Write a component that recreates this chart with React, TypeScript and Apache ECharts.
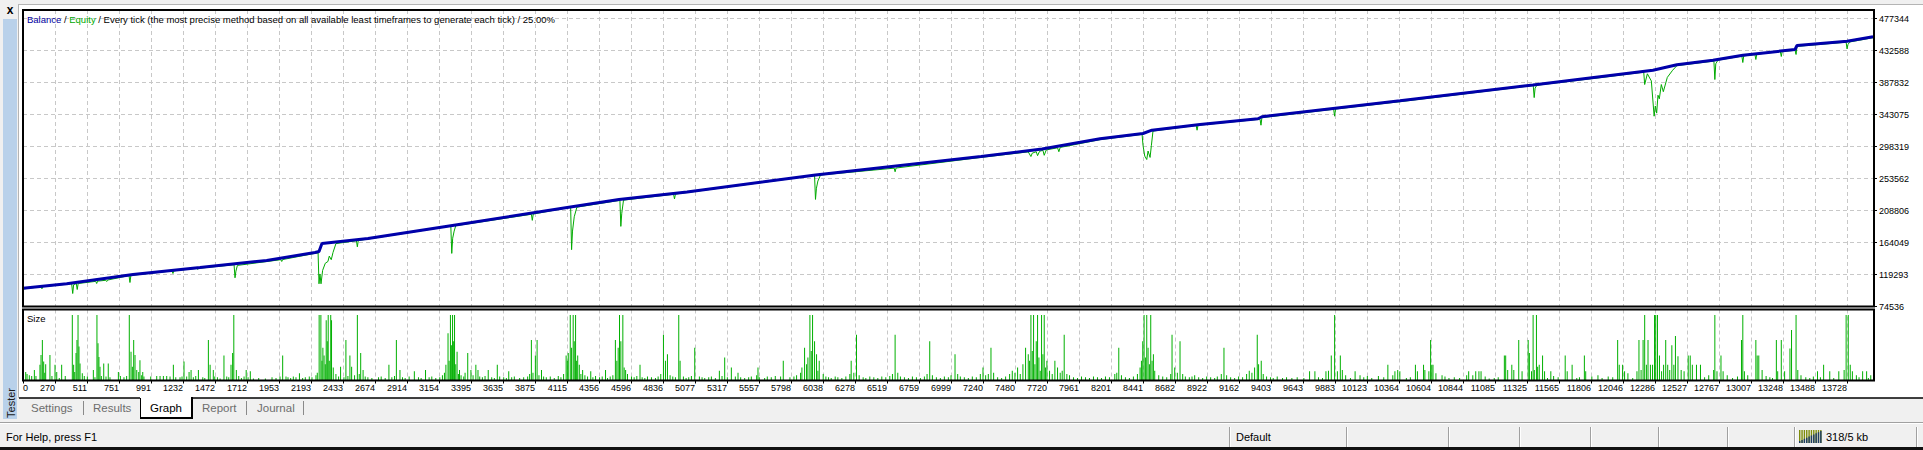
import React, { useEffect, useRef } from "react";
import * as echarts from "echarts";

const xTickLabels = ["0","270","511","751","991","1232","1472","1712","1953","2193","2433","2674","2914","3154","3395","3635","3875","4115","4356","4596","4836","5077","5317","5557","5798","6038","6278","6519","6759","6999","7240","7480","7720","7961","8201","8441","8682","8922","9162","9403","9643","9883","10123","10364","10604","10844","11085","11325","11565","11806","12046","12286","12527","12767","13007","13248","13488","13728"];
const yTickLabels = ["74536","119293","164049","208806","253562","298319","343075","387832","432588","477344"];

// [trade #, balance]
const balance: [number, number][] = [
  [30,100000],[358,106300],[856,119300],[1359,129100],[1860,138900],[2223,150100],[2253,151500],[2275,162600],
  [2621,169600],[3267,188200],[4093,212300],[4506,224200],[5017,234700],[5982,258600],[7225,284300],[7684,294700],
  [8119,309100],[8442,316500],[8509,321100],[8870,329100],[9305,337100],[9335,339900],[9869,351500],[10372,362200],
  [11371,384300],[11874,395800],[12272,405000],[12452,412600],[12723,419000],[12948,426000],[13339,434000],
  [13354,439600],[13730,445600],[13925,451700]
];

// [trade #, equity]
const equity: [number, number][] = [
  [30,99000],[165,102300],[172,99300],[180,102400],[395,106400],[403,92700],[410,105000],[430,106600],[437,98300],
  [444,106700],[576,109700],[583,106700],[590,110000],[651,111200],[658,109500],[665,111500],[826,117800],[833,108100],
  [840,118000],[1149,124300],[1156,120700],[1163,124500],[1335,127800],[1342,126300],[1349,128000],[1615,132900],
  [1622,114700],[1629,124000],[1640,132000],[1966,140000],[1973,137500],[1980,140200],[2223,148900],[2246,149500],
  [2253,106300],[2260,120000],[2268,106300],[2280,125000],[2300,135000],[2320,137500],[2330,145000],[2345,140000],
  [2358,150000],[2380,162500],[2534,166500],[2541,158000],[2548,166800],[3243,187000],[3250,148800],[3257,170000],
  [3268,180000],[3280,187500],[3848,203500],[3855,195000],[3862,203800],[4143,213500],[4150,154000],[4157,180000],
  [4170,200000],[4190,213500],[4513,223000],[4520,186600],[4527,205000],[4540,223300],[4916,231500],[4923,225000],
  [4930,231800],[5975,257800],[5982,224300],[5989,240000],[6000,250000],[6020,258500],[6573,268000],[6580,263000],
  [6587,268200],[7225,283100],[7580,290800],[7600,284300],[7610,289000],[7640,291000],[7650,285500],[7665,291600],
  [7690,293000],[7700,286000],[7715,293500],[7800,296500],[7810,291000],[7820,297000],[8119,307900],[8435,315300],
  [8442,300000],[8455,285000],[8470,280100],[8480,292000],[8495,283000],[8505,300000],[8517,319900],[8841,327800],
  [8848,321100],[8855,328000],[9321,336500],[9328,328100],[9335,338700],[9874,350400],[9881,340700],[9888,350800],
  [10372,361000],[11373,383600],[11380,366700],[11387,380000],[11400,384000],[11874,394600],[12203,402300],
  [12210,385000],[12230,400000],[12260,390000],[12281,340700],[12290,355000],[12300,345000],[12310,370000],
  [12320,365000],[12335,385000],[12350,375000],[12380,395000],[12420,405000],[12452,411400],[12730,417800],
  [12737,392000],[12744,414000],[12760,419000],[12940,424800],[12947,415800],[12954,425000],[13038,427000],
  [13045,420000],[13052,427500],[13229,431000],[13236,424200],[13243,431300],[13340,432800],[13347,427000],
  [13354,438400],[13723,444200],[13730,434900],[13737,441000],[13750,444500],[13925,450500]
];

// [trade #, position size]
const lotSizes: [number, number][] = [
  [50,0.13],[60,0.10],[77,0.08],[95,0.07],[115,0.16],[127,0.07],[157,0.24],[165,0.39],[175,0.62],[185,0.29],
  [193,0.12],[200,0.25],[232,0.39],[247,0.07],[270,0.24],[283,0.13],[302,0.04],[320,0.24],[347,0.07],
  [400,1.0],[410,0.24],[418,0.13],[428,0.42],[435,0.62],[443,1.0],[450,0.52],[458,0.26],[475,0.11],[490,0.07],
  [513,0.06],[558,0.16],[570,0.05],[585,1.0],[593,0.57],[600,0.36],[608,0.21],[618,0.07],[636,0.26],[653,0.06],
  [670,0.26],[683,0.05],[746,0.13],[761,0.07],[788,0.05],[808,0.07],[828,1.0],[841,0.44],[851,0.21],[861,0.62],
  [871,0.39],[884,0.16],[899,0.13],[908,0.31],[921,0.08],[929,0.13],[938,0.06],[989,0.06],[1034,0.07],
  [1059,0.07],[1084,0.07],[1109,0.07],[1134,0.06],[1159,0.24],[1177,0.05],[1209,0.05],[1224,0.06],[1239,0.29],
  [1259,0.06],[1277,0.13],[1292,0.16],[1309,0.05],[1327,0.07],[1347,0.16],
  [1380,0.05],[1395,0.04],[1422,0.62],[1435,0.24],[1459,0.16],[1470,0.06],[1490,0.05],[1510,0.03],[1539,0.38],
  [1560,0.06],[1575,0.05],[1592,0.24],[1604,0.42],[1613,1.0],[1632,0.16],[1650,0.07],[1670,0.04],[1690,0.06],
  [1706,0.16],[1720,0.05],[1737,0.14],[1760,0.03],[1800,0.04],[1850,0.03],[1900,0.05],[1930,0.04],[1960,0.06],
  [1980,0.38],[2005,0.06],[2020,0.05],[2040,0.04],[2060,0.06],[2080,0.05],[2106,0.11],[2130,0.04],[2150,0.05],
  [2180,0.06],[2200,0.05],[2230,0.08],[2240,0.12],[2254,1.0],[2267,1.0],[2275,0.3],[2282,0.5],[2291,0.38],
  [2300,0.25],[2307,0.92],[2315,0.6],[2322,1.0],[2330,0.3],[2341,1.0],[2347,0.92],[2360,0.2],[2380,0.1],
  [2400,0.06],[2415,0.21],[2440,0.05],[2455,0.62],[2470,0.07],[2485,0.38],[2498,0.21],[2520,0.08],[2541,1.0],
  [2555,0.1],[2566,0.42],[2584,0.16],[2600,0.06],[2620,0.05],[2650,0.04],[2700,0.05],[2720,0.06],[2750,0.04],
  [2778,0.24],[2800,0.05],[2820,0.07],[2834,0.62],[2861,0.16],[2880,0.05],[2900,0.04],[2930,0.06],[2969,0.14],
  [3000,0.05],[3020,0.04],[3053,0.16],[3080,0.05],[3100,0.06],[3130,0.04],[3160,0.05],[3180,0.08],[3195,0.12],
  [3206,0.24],[3222,0.72],[3230,0.3],[3240,1.0],[3247,0.54],[3256,1.0],[3262,0.6],[3271,1.0],[3280,0.25],
  [3290,0.44],[3300,0.1],[3308,0.16],[3320,0.08],[3340,0.06],[3350,0.12],[3370,0.42],[3394,0.16],[3410,0.08],
  [3431,0.24],[3447,0.16],[3460,0.06],[3480,0.05],[3500,0.07],[3524,0.16],[3550,0.05],[3570,0.04],[3592,0.24],
  [3610,0.06],[3640,0.05],[3660,0.04],[3678,0.14],[3700,0.05],[3720,0.06],[3760,0.04],[3790,0.05],[3820,0.06],
  [3835,0.1],[3848,0.62],[3860,0.12],[3878,0.38],[3891,0.62],[3905,0.08],[3924,0.16],[3940,0.06],[3960,0.05],
  [3990,0.06],[4020,0.04],[4050,0.07],[4070,0.05],[4090,0.1],[4109,0.38],[4118,0.3],[4125,0.42],[4140,1.0],
  [4150,0.5],[4162,1.0],[4170,0.6],[4180,1.0],[4188,0.3],[4196,0.38],[4208,0.24],[4220,0.1],[4233,0.16],
  [4250,0.08],[4270,0.06],[4294,0.14],[4310,0.05],[4330,0.07],[4360,0.05],[4380,0.06],[4405,0.16],[4420,0.04],
  [4440,0.06],[4460,0.08],[4479,0.62],[4490,0.3],[4500,0.5],[4510,1.0],[4520,0.6],[4535,1.0],[4545,0.2],
  [4556,0.16],[4570,0.1],[4600,0.06],[4620,0.05],[4640,0.07],[4664,0.24],
  [4680,0.05],[4700,0.04],[4720,0.06],[4750,0.05],[4780,0.04],[4800,0.06],[4820,0.1],[4840,0.7],[4855,0.3],
  [4870,0.4],[4890,0.08],[4910,0.06],[4930,0.05],[4955,1.0],[4965,0.3],[4990,0.06],[5010,0.04],[5030,0.05],
  [5050,0.07],[5075,0.5],[5110,0.06],[5130,0.05],[5150,0.04],[5180,0.05],[5200,0.06],[5230,0.04],[5260,0.15],
  [5280,0.07],[5300,0.35],[5320,0.05],[5350,0.2],[5380,0.06],[5400,0.12],[5420,0.05],[5450,0.04],[5480,0.05],
  [5500,0.06],[5540,0.08],[5550,0.2],[5560,0.05],[5600,0.04],[5620,0.06],[5650,0.05],[5680,0.07],[5720,0.06],
  [5740,0.3],[5790,0.05],[5820,0.06],[5840,0.08],[5870,0.12],[5880,0.2],[5900,0.5],[5915,0.25],[5925,0.35],
  [5940,1.0],[5950,0.45],[5960,1.0],[5975,0.6],[5990,0.4],[6000,0.15],[6010,0.3],[6040,0.1],[6060,0.06],
  [6080,0.05],[6100,0.04],[6130,0.06],[6150,0.05],[6180,0.04],[6210,0.06],[6240,0.1],[6250,0.3],[6270,0.12],
  [6290,0.7],[6310,0.08],[6340,0.05],[6360,0.04],[6390,0.06],[6420,0.05],[6450,0.04],[6480,0.06],[6510,0.05],
  [6540,0.07],[6560,0.1],[6580,0.7],[6600,0.12],[6620,0.06],[6650,0.05],[6680,0.04],[6710,0.06],[6740,0.05],
  [6770,0.04],[6800,0.06],[6820,0.1],[6840,0.6],[6860,0.08],[6890,0.05],[6920,0.04],[6950,0.06],[6980,0.05],
  [7000,0.08],[7030,0.4],[7050,0.1],[7070,0.06],[7100,0.05],[7130,0.04],[7160,0.06],[7190,0.05],[7220,0.1],
  [7240,0.2],[7260,0.08],[7280,0.1],[7300,0.5],[7320,0.12],[7350,0.05],[7380,0.04],[7410,0.06],[7440,0.1],
  [7460,0.15],[7480,0.12],[7500,0.2],[7520,0.1],[7540,0.25],[7560,0.5],[7580,0.4],[7590,0.3],[7600,1.0],
  [7610,0.45],[7620,1.0],[7630,0.25],[7640,0.6],[7650,1.0],[7660,0.35],[7670,0.15],[7680,1.0],[7690,0.4],
  [7700,1.0],[7710,0.2],[7720,0.3],[7740,0.15],[7760,0.1],[7780,0.3],[7800,0.2],[7820,0.12],[7835,0.15],
  [7850,0.7],[7870,0.1],[7890,0.08],[7920,0.05],[7950,0.04],[7980,0.06],[8010,0.05],[8040,0.04],[8070,0.06],
  [8100,0.05],[8130,0.04],[8160,0.06],[8190,0.05],[8230,0.1],[8245,0.12],[8260,0.5],[8280,0.08],[8310,0.05],
  [8340,0.04],[8370,0.06],[8400,0.1],[8420,0.2],[8430,0.3],[8440,0.6],[8450,1.0],[8460,0.35],[8470,1.0],
  [8480,0.5],[8490,0.25],[8500,1.0],[8510,0.3],[8520,0.4],[8530,0.15],[8560,0.08],[8590,0.06],[8620,0.05],
  [8650,0.1],[8660,0.7],[8680,0.2],[8700,0.12],[8720,0.6],[8740,0.1],[8760,0.06],[8790,0.05],[8810,0.06],
  [8830,0.08],[8860,0.05],[8890,0.04],[8920,0.06],[8950,0.05],[8980,0.04],[9000,0.06],[9030,0.1],[9050,0.5],
  [9070,0.08],[9100,0.05],[9130,0.04],[9160,0.06],[9190,0.05],[9220,0.1],[9240,0.15],[9260,0.12],[9280,0.2],
  [9300,0.7],[9310,0.25],[9330,0.3],[9345,0.1],[9370,0.06],[9400,0.05],[9420,0.04],[9450,0.06],
  [9490,0.04],[9520,0.05],[9560,0.04],[9600,0.05],[9650,0.04],[9693,0.14],[9733,0.14],[9760,0.05],[9790,0.04],
  [9816,0.14],[9835,0.15],[9856,0.38],[9881,1.0],[9902,0.14],[9924,0.38],[9939,0.16],[9964,0.08],[10000,0.04],
  [10035,0.14],[10072,0.08],[10100,0.05],[10127,0.07],[10160,0.04],[10210,0.07],[10250,0.05],[10281,0.24],
  [10318,0.08],[10334,0.14],[10355,0.16],[10371,0.14],[10420,0.04],[10450,0.05],[10488,0.24],[10503,0.14],
  [10549,0.24],[10559,0.16],[10589,0.14],[10602,0.62],[10611,0.24],[10620,0.24],[10642,0.11],[10688,0.08],
  [10710,0.06],[10740,0.04],[10780,0.05],[10820,0.04],[10873,0.08],[10888,0.14],[10919,0.08],[10941,0.14],
  [10965,0.14],[10981,0.14],[11012,0.06],[11042,0.03],[11080,0.04],[11110,0.05],[11156,0.38],[11166,0.38],
  [11181,0.16],[11212,0.24],[11227,0.16],[11264,0.62],[11289,0.14],[11335,0.62],[11344,0.42],[11360,0.14],
  [11372,1.0],[11381,0.16],[11397,1.0],[11406,0.21],[11418,0.24],[11443,0.38],[11458,0.14],[11480,0.04],
  [11505,0.14],[11526,0.07],[11560,0.05],[11613,0.38],[11628,0.14],[11665,0.24],[11700,0.04],[11720,0.05],
  [11757,0.38],[11767,0.14],[11813,0.06],[11859,0.08],[11890,0.04],[11936,0.06],[11970,0.05],[12007,0.62],
  [12019,0.24],[12044,0.24],[12059,0.14],[12084,0.11],[12120,0.04],[12152,0.14],[12167,0.62],[12183,0.16],
  [12198,0.62],[12210,1.0],[12223,0.24],[12235,0.62],[12253,0.24],[12269,0.24],[12284,1.0],[12293,1.0],
  [12306,1.0],[12321,0.38],[12337,0.14],[12352,0.24],[12368,0.62],[12383,0.24],[12398,0.16],[12414,0.54],
  [12429,0.24],[12441,0.68],[12460,0.37],[12484,0.16],[12506,0.14],[12537,0.38],[12552,0.38],[12568,0.24],
  [12599,0.24],[12629,0.24],[12660,0.05],[12691,0.08],[12728,0.16],[12737,1.0],[12753,0.14],[12783,0.38],
  [12799,0.14],[12830,0.08],[12870,0.04],[12907,0.06],[12937,0.62],[12947,1.0],[12959,0.14],[12984,0.08],
  [13045,0.62],[13055,0.38],[13067,0.38],[13092,0.16],[13122,0.07],[13150,0.05],[13170,0.04],[13199,0.62],
  [13209,0.14],[13236,0.62],[13261,0.14],[13301,0.49],[13313,0.77],[13347,1.0],[13360,0.16],[13384,0.08],
  [13420,0.05],[13450,0.04],[13477,0.06],[13508,0.14],[13530,0.05],[13554,0.24],[13600,0.14],[13630,0.04],
  [13668,0.14],[13708,0.16],[13723,1.0],[13739,1.0],[13754,0.24],[13770,0.14],[13800,0.08],[13820,0.05],
  [13847,0.14],[13877,0.14],[13890,0.04],[13908,0.08]
];

const X_MIN = 29.65;
const X_STEP = 240.35;
const X_MAX = X_MIN + (X_STEP * 1851) / 32;
const Y_MIN = 74536;
const Y_STEP = (477344 - 74536) / 9;
const Y_MAX = Y_MIN + (Y_STEP * 296.5) / 32;
const SIZE_MAX = 71 / 65.5;

const UI = "'Liberation Sans', Arial, sans-serif";

function idxLabel(list: string[], v: number, min: number, step: number) {
  const f = (v - min) / step;
  const r = Math.round(f);
  if (Math.abs(f - r) > 0.02) return "";
  return list[r] ?? "";
}

export default function App() {
  const ref = useRef<HTMLDivElement>(null);
  useEffect(() => {
    document.body.style.margin = "0";
    const chart = echarts.init(ref.current!, undefined, { renderer: "svg" });

    const txt = (x: number, y: number, text: string, fill: string, size: number, extra: any = {}) => ({
      type: "text",
      x,
      y,
      z: 100,
      ...extra,
      style: {
        text,
        fill,
        font: `${size}px ${UI}`,
        align: extra.align || "left",
        verticalAlign: "middle",
        textAlign: extra.align || "left",
        textVerticalAlign: "middle",
      },
    });
    const ln = (x1: number, y1: number, x2: number, y2: number, stroke: string, lineWidth = 1) => ({
      type: "line",
      z: 100,
      shape: { x1, y1, x2, y2 },
      style: { stroke, lineWidth },
    });
    const rc = (x: number, y: number, width: number, height: number, fill: string, z = 90) => ({
      type: "rect",
      z,
      shape: { x, y, width, height },
      style: { fill },
    });

    const statusSeps = [1229, 1346, 1448, 1519, 1590, 1658, 1727, 1794, 1916];
    const iconBars: any[] = [];
    for (let i = 0; i < 10; i++) {
      const x = 1799 + i * 2.35;
      iconBars.push(rc(x, 430, 1.4, 13, "#7d8c0a", 101));
      const bh = 2 + i * 1.1;
      iconBars.push(rc(x, 443 - bh, 1.4, bh, "#1d3b66", 102));
    }

    const graphic: any[] = [
      rc(0, 0, 1923, 4, "#f0f0f0"),
      rc(0, 0, 18, 450, "#f0f0f0"),
      ln(18, 4.5, 1923, 4.5, "#b4b4b4"),
      ln(18.5, 4, 18.5, 398, "#b4b4b4"),
      rc(3, 19, 14, 400, "#b9d1ea"),
      {
        type: "text", x: 10, y: 10, z: 100,
        style: { text: "x", fill: "#000", font: `bold 12px ${UI}`, align: "center", verticalAlign: "middle", textAlign: "center", textVerticalAlign: "middle" },
      },
      {
        type: "text", x: 11, y: 403, z: 101, rotation: Math.PI / 2,
        style: { text: "Tester", fill: "#1a1a1a", font: `11px ${UI}`, align: "center", verticalAlign: "middle", textAlign: "center", textVerticalAlign: "middle" },
      },
      { type: "rect", z: 100, shape: { x: 23, y: 10, width: 1851, height: 296.5 }, style: { fill: "none", stroke: "#000", lineWidth: 2 } },
      { type: "rect", z: 100, shape: { x: 23, y: 309.5, width: 1851, height: 71 }, style: { fill: "none", stroke: "#000", lineWidth: 2 } },
      {
        type: "text", x: 27, y: 19, z: 100,
        style: {
          text: "{b|Balance} / {e|Equity} / Every tick (the most precise method based on all available least timeframes to generate each tick) / 25.00%",
          fill: "#000",
          font: `9.5px ${UI}`,
          verticalAlign: "middle",
          textVerticalAlign: "middle",
          rich: {
            b: { fill: "#0000a0", font: `9.5px ${UI}` },
            e: { fill: "#00a800", font: `9.5px ${UI}` },
          },
        },
      },
      txt(27, 318, "Size", "#000", 9.5),
      rc(18, 398, 1905, 52, "#f0f0f0"),
      ln(19, 398, 140, 398, "#000", 1.5),
      ln(192, 398, 1923, 398, "#000", 1.5),
      rc(140, 397, 52, 21, "#ffffff", 95),
      ln(140.5, 398, 140.5, 418, "#000", 1),
      ln(192, 397, 192, 419, "#000", 2),
      ln(140, 418, 193, 418, "#000", 2),
      txt(31, 408, "Settings", "#6d6d6d", 11.5),
      ln(83.5, 401, 83.5, 415, "#8a8a8a"),
      txt(93, 408, "Results", "#6d6d6d", 11.5),
      txt(150, 408, "Graph", "#000", 11.5),
      txt(202, 408, "Report", "#6d6d6d", 11.5),
      ln(246.5, 401, 246.5, 415, "#8a8a8a"),
      txt(257, 408, "Journal", "#6d6d6d", 11.5),
      ln(303.5, 401, 303.5, 415, "#8a8a8a"),
      ln(0, 422.5, 1923, 422.5, "#a0a0a0"),
      ln(0, 423.5, 1923, 423.5, "#ffffff"),
      rc(0, 447, 1923, 3, "#111111", 100),
      txt(6, 437, "For Help, press F1", "#000", 11),
      txt(1236, 437, "Default", "#000", 11),
      txt(1826, 437, "318/5 kb", "#000", 11),
      ...statusSeps.flatMap((x) => [ln(x + 0.5, 427, x + 0.5, 447, "#a0a0a0"), ln(x + 1.5, 427, x + 1.5, 447, "#ffffff")]),
      ...iconBars,
    ];

    const axisFont = { fontFamily: UI, fontSize: 9, color: "#000" };
    const dash = { color: "#c8c8c8", type: [4, 3] as any, width: 1 };

    chart.setOption({
      animation: false,
      backgroundColor: "#ffffff",
      grid: [
        { left: 23, top: 10, width: 1851, height: 296.5, show: false },
        { left: 23, top: 309.5, width: 1851, height: 71, show: false },
      ],
      xAxis: [
        {
          type: "value", gridIndex: 0, min: X_MIN, max: X_MAX, interval: X_STEP,
          axisLabel: { show: false }, axisTick: { show: false }, axisLine: { show: false },
          splitLine: { show: true, lineStyle: dash },
        },
        {
          type: "value", gridIndex: 1, min: X_MIN, max: X_MAX, interval: X_STEP,
          axisLabel: {
            show: true, ...axisFont, margin: 3, align: "right", alignMinLabel: "left",
            showMaxLabel: false,
            formatter: (v: number) => idxLabel(xTickLabels, v, X_MIN, X_STEP),
          },
          axisTick: { show: true, length: 3, lineStyle: { color: "#000" } },
          axisLine: { show: false },
          splitLine: { show: true, lineStyle: dash },
        },
      ],
      yAxis: [
        {
          type: "value", gridIndex: 0, position: "right", min: Y_MIN, max: Y_MAX, interval: Y_STEP,
          axisLabel: {
            show: true, ...axisFont, margin: 5, showMaxLabel: false,
            formatter: (v: number) => idxLabel(yTickLabels, v, Y_MIN, Y_STEP),
          },
          axisTick: { show: true, length: 3, lineStyle: { color: "#000" } },
          axisLine: { show: false },
          splitLine: { show: true, lineStyle: dash },
        },
        {
          type: "value", gridIndex: 1, min: 0, max: SIZE_MAX,
          axisLabel: { show: false }, axisTick: { show: false }, axisLine: { show: false },
          splitLine: { show: false },
        },
      ],
      series: [
        {
          type: "line", name: "Equity", xAxisIndex: 0, yAxisIndex: 0, data: equity,
          symbol: "none", lineStyle: { color: "#00aa00", width: 1 }, z: 2,
        },
        {
          type: "line", name: "Balance", xAxisIndex: 0, yAxisIndex: 0, data: balance,
          symbol: "none", lineStyle: { color: "#0000aa", width: 3 }, z: 3,
        },
        {
          type: "bar", name: "Size", xAxisIndex: 1, yAxisIndex: 1, data: lotSizes,
          barWidth: 1, itemStyle: { color: "#00b000" },
        },
      ],
      graphic,
    });
    return () => chart.dispose();
  }, []);
  return <div ref={ref} style={{ position: "absolute", left: 0, top: 0, width: 1923, height: 450 }} />;
}
